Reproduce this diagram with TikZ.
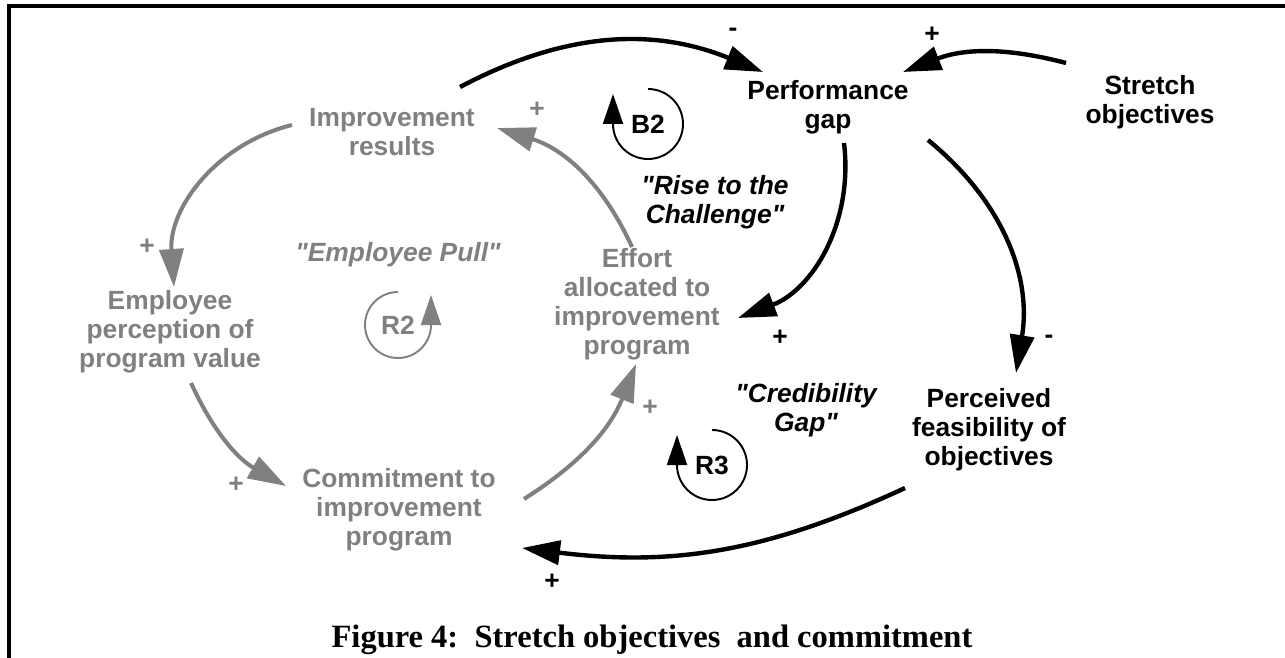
\documentclass[tikz,border=0pt]{standalone}
\usepackage{fontspec}
\setmainfont{Liberation Serif}
\setsansfont{Liberation Sans}[Ligatures=TeXOff]
\usetikzlibrary{arrows.meta}
\definecolor{pullgray}{RGB}{128,128,128}

\begin{document}
\begin{tikzpicture}[x=0.2mm, y=0.2mm,
    var/.style={font=\sffamily\bfseries\fontsize{15}{16.5}\selectfont, align=center},
    greyvar/.style={var, text=pullgray},
    loopname/.style={font=\sffamily\bfseries\itshape\fontsize{15}{16.5}\selectfont, align=center},
    link/.style={line width=2.5pt, -{Triangle[length=0.76cm, width=0.48cm]}},
    blacklink/.style={link, black},
    greylink/.style={link, pullgray, line width=2.3pt},
    loop/.style={line width=1.1pt, -{Triangle[length=0.6cm, width=0.4cm]}},
    caption/.style={font=\rmfamily\bfseries\fontsize{18.5}{20}\selectfont}]
	\useasboundingbox (0,0) rectangle (1285,-658);
	\draw [line width=2pt] (1285,-6) -- (9,-6) -- (9,-658);

	% variables
	\node [greyvar] (imp) at (392,-132) {Improvement\\results};
	\node [var] (perf) at (828,-107) {Performance\\gap};
	\node [var] (stretch) at (1150,-102) {Stretch\\objectives};
	\node [greyvar] (eff) at (637,-304) {Effort\\allocated to\\improvement\\program};
	\node [greyvar] (emp) at (170,-332) {Employee\\perception of\\program value};
	\node [greyvar] (com) at (399,-510) {Commitment to\\improvement\\program};
	\node [var] (feas) at (989,-430) {Perceived\\feasibility of\\objectives};

	% loop names
	\node [loopname, text=pullgray] (pull) at (398,-255) {"Employee Pull"};
	\node [loopname] (rise) at (715,-202) {"Rise to the\\Challenge"};
	\node [loopname] (cred) at (806,-410) {"Credibility\\Gap"};

	% loop markers
	\node [var] (b2) at (648,-124) {B2};
	\draw [loop] ([shift={(90:35)}]b2.center) arc [start angle=90, end angle=-180, radius=35] -- ++(0,30);
	\node [greyvar] (r2) at (398,-325) {R2};
	\draw [loop, pullgray] ([shift={(90:33)}]r2.center) arc [start angle=90, end angle=360, radius=33] -- ++(0,30);
	\node [var] (r3) at (712,-465) {R3};
	\draw [loop] ([shift={(90:35)}]r3.center) arc [start angle=90, end angle=-180, radius=35] -- ++(0,30);

	% links
	\draw [blacklink] ([shift={(68,45)}]imp.center) to [bend left=25] ([shift={(-65,35)}]perf.center);
	\draw [blacklink] ([shift={(-84,39)}]stretch.center) to [bend right=18] ([shift={(75,35)}]perf.center);
	\draw [greylink] ([shift={(-5,57)}]eff.center) to [bend right=24] ([shift={(105,4)}]imp.center);
	\draw [greylink] ([shift={(-100,7)}]imp.center) to [bend right=40] ([shift={(4,45)}]emp.center);
	\draw [greylink] ([shift={(21,-51)}]emp.center) to [bend right=18] ([shift={(-113,24)}]com.center);
	\draw [greylink] ([shift={(125,11)}]com.center) to [bend right=18] ([shift={(-1,-60)}]eff.center);
	\draw [blacklink] ([shift={(16,-36)}]perf.center) to [bend left=38] ([shift={(101,-14)}]eff.center);
	\draw [blacklink] ([shift={(100,-33)}]perf.center) to [bend left=30] ([shift={(27,57)}]feas.center);
	\draw [blacklink] ([shift={(-84,-58)}]feas.center) to [bend left=16] ([shift={(123,-38)}]com.center);

	% polarities
	\node [var] (p1) at (733,-32) {-};
	\node [var] (p2) at (932,-35) {+};
	\node [greyvar] (p3) at (537,-110) {+};
	\node [greyvar] (p4) at (147,-247) {+};
	\node [greyvar] (p5) at (236,-485) {+};
	\node [greyvar] (p6) at (650,-408) {+};
	\node [var] (p7) at (780,-338) {+};
	\node [var] (p8) at (1049,-339) {-};
	\node [var] (p9) at (552,-582) {+};

	\node [caption, anchor=base] (cap) at (652,-647) {Figure 4:\ \ Stretch objectives\ \ and commitment};
\end{tikzpicture}
\end{document}
